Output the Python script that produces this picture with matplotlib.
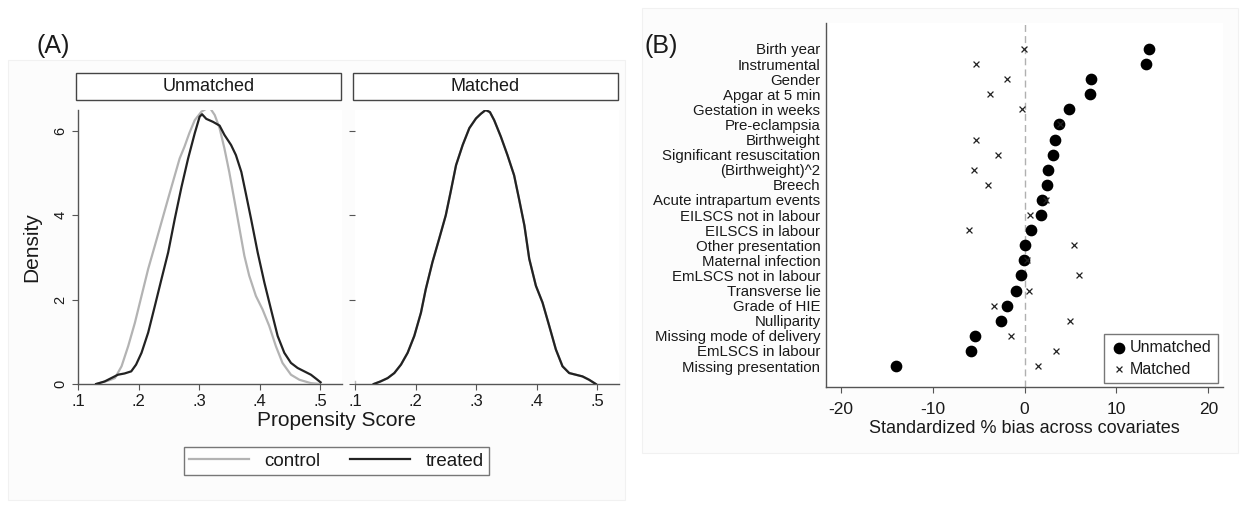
import matplotlib
matplotlib.use("Agg")
import matplotlib.pyplot as plt
from matplotlib.patches import Rectangle
from matplotlib.lines import Line2D
import numpy as np

plt.rcParams['font.family'] = ['Liberation Sans', 'DejaVu Sans']

# ---------------- Panel A data (density of propensity score) ----------------
unm_treated_x = [0.130, 0.144, 0.155, 0.166, 0.177, 0.188, 0.196, 0.205, 0.216, 0.227,
                 0.238, 0.249, 0.260, 0.271, 0.282, 0.293, 0.301, 0.305, 0.312, 0.323,
                 0.334, 0.342, 0.353, 0.361, 0.370, 0.378, 0.386, 0.397, 0.408, 0.419,
                 0.430, 0.441, 0.452, 0.463, 0.474, 0.485, 0.494, 0.501]
unm_treated_y = [0.00, 0.06, 0.14, 0.22, 0.25, 0.30, 0.46, 0.74, 1.22, 1.85,
                 2.49, 3.12, 3.92, 4.67, 5.35, 5.95, 6.34, 6.40, 6.29, 6.22,
                 6.13, 5.91, 5.67, 5.43, 5.03, 4.48, 3.92, 3.12, 2.41, 1.77,
                 1.14, 0.74, 0.50, 0.38, 0.30, 0.22, 0.12, 0.04]
unm_control_x = [0.130, 0.150, 0.161, 0.172, 0.183, 0.194, 0.205, 0.216, 0.227, 0.238,
                 0.249, 0.260, 0.268, 0.276, 0.284, 0.293, 0.304, 0.312, 0.319, 0.326,
                 0.334, 0.342, 0.350, 0.359, 0.367, 0.375, 0.383, 0.394, 0.405, 0.416,
                 0.427, 0.438, 0.452, 0.466, 0.485, 0.500]
unm_control_y = [0.00, 0.08, 0.14, 0.42, 0.90, 1.45, 2.09, 2.73, 3.28, 3.84,
                 4.40, 4.95, 5.35, 5.63, 5.95, 6.26, 6.46, 6.53, 6.53, 6.38,
                 6.07, 5.59, 5.03, 4.32, 3.68, 3.04, 2.57, 2.09, 1.77, 1.38,
                 0.90, 0.50, 0.22, 0.10, 0.02, 0.00]
mat_x = [0.131, 0.142, 0.154, 0.165, 0.176, 0.187, 0.198, 0.209, 0.217, 0.228,
         0.239, 0.250, 0.258, 0.267, 0.278, 0.289, 0.300, 0.308, 0.316, 0.323,
         0.330, 0.341, 0.352, 0.363, 0.371, 0.380, 0.388, 0.399, 0.410, 0.421,
         0.432, 0.443, 0.454, 0.465, 0.476, 0.487, 0.498]
mat_y = [0.00, 0.06, 0.14, 0.26, 0.46, 0.74, 1.14, 1.69, 2.25, 2.89,
         3.44, 4.00, 4.55, 5.19, 5.67, 6.07, 6.30, 6.41, 6.50, 6.45,
         6.26, 5.87, 5.43, 4.95, 4.40, 3.76, 2.97, 2.33, 1.93, 1.38,
         0.82, 0.42, 0.26, 0.22, 0.18, 0.10, 0.00]
panel_titles = ["Unmatched", "Matched"]
x_ticks_a = [0.1, 0.2, 0.3, 0.4, 0.5]
x_ticklabels_a = [".1", ".2", ".3", ".4", ".5"]
y_ticks_a = [0, 2, 4, 6]

# ---------------- Panel B data (standardized % bias) ----------------
covariates = ["Birth year", "Instrumental", "Gender", "Apgar at 5 min", "Gestation in weeks",
              "Pre-eclampsia", "Birthweight", "Significant resuscitation", "(Birthweight)^2",
              "Breech", "Acute intrapartum events", "EILSCS not in labour", "EILSCS in labour",
              "Other presentation", "Maternal infection", "EmLSCS not in labour",
              "Transverse lie", "Grade of HIE", "Nulliparity", "Missing mode of delivery",
              "EmLSCS in labour", "Missing presentation"]
bias_unmatched = [13.5, 13.2, 7.2, 7.1, 4.8, 3.8, 3.3, 3.1, 2.6, 2.5, 1.9, 1.8, 0.7,
                  0.1, -0.1, -0.4, -0.9, -1.9, -2.6, -5.4, -5.8, -14.0]
bias_matched = [-0.1, -5.3, -1.9, -3.7, -0.3, 3.9, -5.3, -2.9, -5.5, -4.0, 2.3, 0.6, -6.0,
                5.4, 0.3, 5.9, 0.5, -3.3, 4.9, -1.5, 3.4, 1.5]
x_ticks_b = [-20, -10, 0, 10, 20]

W, H = 1241, 508
fig = plt.figure(figsize=(W / 100, H / 100), dpi=100)
fig.patch.set_facecolor('white')

def fx(px):
    return px / W

def fy(py):
    return 1 - py / H

# faint graph-region backgrounds
fig.patches.append(Rectangle((fx(8), fy(500)), fx(617), (500 - 60) / H, transform=fig.transFigure,
                             facecolor='#fcfcfc', edgecolor='#f1f1f1', lw=0.8, zorder=-5))
fig.patches.append(Rectangle((fx(642), fy(453)), fx(596), (453 - 8) / H, transform=fig.transFigure,
                             facecolor='#fcfcfc', edgecolor='#f1f1f1', lw=0.8, zorder=-5))

axis_col = '#555555'
text_col = '#1a1a1a'
ctrl_col = '#b3b3b3'
trt_col = '#222222'

# ---------------- Panel A ----------------
lefts = [78, 355]
aw = 264
bottom_px, top_px = 384, 110
axesA = []
for i, lp in enumerate(lefts):
    ax = fig.add_axes([fx(lp), fy(bottom_px), fx(aw), (bottom_px - top_px) / H])
    ax.set_facecolor('white')
    ax.set_xlim(0.1, 0.1 + 0.4 * aw / 242)
    ax.set_ylim(0, 6.5)
    for s in ['top', 'right']:
        ax.spines[s].set_visible(False)
    for s in ['left', 'bottom']:
        ax.spines[s].set_color(axis_col)
        ax.spines[s].set_linewidth(1.0)
    ax.set_xticks(x_ticks_a)
    ax.set_xticklabels(x_ticklabels_a, fontsize=12, color=text_col)
    ax.set_yticks(y_ticks_a)
    if i == 0:
        ax.set_yticklabels([str(v) for v in y_ticks_a], fontsize=10.5, color=text_col,
                           rotation=90, va='center')
    else:
        ax.set_yticklabels([])
        ax.tick_params(axis='y', length=0)
    ax.tick_params(axis='both', colors=axis_col, labelcolor=text_col, length=4, width=0.8)
    axesA.append(ax)

    # strip
    sl = lp - 2
    fig.patches.append(Rectangle((fx(sl), fy(100)), fx(aw + 1), 27 / H, transform=fig.transFigure,
                                 facecolor='white', edgecolor='#444444', lw=1.0, zorder=2))
    fig.text(fx(sl + (aw + 1) / 2), fy(86.5), panel_titles[i], ha='center', va='center',
             fontsize=13, color=text_col)

axesA[1].spines['left'].set_color('#bbbbbb')
axesA[1].spines['left'].set_bounds(0, 0.08)

axesA[0].plot(unm_control_x, unm_control_y, color=ctrl_col, lw=1.6, zorder=3)
axesA[0].plot(unm_treated_x, unm_treated_y, color=trt_col, lw=1.6, zorder=4)
axesA[1].plot(mat_x, mat_y, color=ctrl_col, lw=1.6, zorder=3)
axesA[1].plot(mat_x, mat_y, color=trt_col, lw=1.6, zorder=4)

axesA[0].set_ylabel("Density", fontsize=15, color=text_col, labelpad=9)
fig.text(fx(337), fy(421), "Propensity Score", ha='center', va='center', fontsize=15,
         color=text_col)
fig.text(fx(36), fy(46), "(A)", ha='left', va='center', fontsize=18, color=text_col)

# legend for A
leg_handles = [Line2D([0], [0], color=ctrl_col, lw=1.6),
               Line2D([0], [0], color=trt_col, lw=1.6)]
legA = fig.legend(leg_handles, ["control", "treated"], loc='center',
                  bbox_to_anchor=(fx(336.5), fy(461)), ncol=2, frameon=True, fontsize=13.5,
                  handlelength=3.2, columnspacing=1.6, borderpad=0.3, handletextpad=0.8,
                  fancybox=False, edgecolor='#555555', borderaxespad=0)
legA.get_frame().set_linewidth(1.0)
for t in legA.get_texts():
    t.set_color(text_col)

# ---------------- Panel B ----------------
bl, br, bt, bb = 826, 1223, 23, 387
axB = fig.add_axes([fx(bl), fy(bb), fx(br - bl), (bb - bt) / H])
axB.set_facecolor('white')
n = len(covariates)
ypos = np.arange(1, n + 1)
axB.set_ylim(n + 1.39, 1 - 1.72)
axB.set_xlim(-21.6, 21.6)
axB.axvline(0, color='#b0b0b0', lw=1.0, ls=(0, (5, 3)), zorder=1)
axB.scatter(bias_unmatched, ypos, s=55, color='black', marker='o', zorder=3, label='Unmatched')
axB.scatter(bias_matched, ypos, s=18, color='#222222', marker='x', linewidths=0.9, zorder=4,
            label='Matched')
axB.set_yticks(ypos)
axB.set_yticklabels(covariates, fontsize=10.8, color=text_col)
axB.tick_params(axis='y', length=0, pad=4)
axB.set_xticks(x_ticks_b)
axB.set_xticklabels([str(v) for v in x_ticks_b], fontsize=12.5, color=text_col)
axB.tick_params(axis='x', colors=axis_col, labelcolor=text_col, length=4, width=0.8, pad=7)
for s in ['top', 'right']:
    axB.spines[s].set_visible(False)
for s in ['left', 'bottom']:
    axB.spines[s].set_color(axis_col)
    axB.spines[s].set_linewidth(1.0)
axB.set_xlabel("Standardized % bias across covariates", fontsize=13, color=text_col, labelpad=2)
legB = axB.legend(loc='lower right', bbox_to_anchor=((1218 - bl) / (br - bl), (bb - 383) / (bb - bt)),
                  bbox_transform=axB.transAxes, frameon=True, fontsize=11.5,
                  fancybox=False, edgecolor='#555555', borderpad=0.4, handletextpad=0.2,
                  labelspacing=0.4, handlelength=1.0, scatterpoints=1, borderaxespad=0)
legB.get_frame().set_linewidth(1.0)
for t in legB.get_texts():
    t.set_color(text_col)
fig.text(fx(644), fy(46), "(B)", ha='left', va='center', fontsize=18, color=text_col)

fig.savefig("out.png", dpi=100, facecolor='white')
